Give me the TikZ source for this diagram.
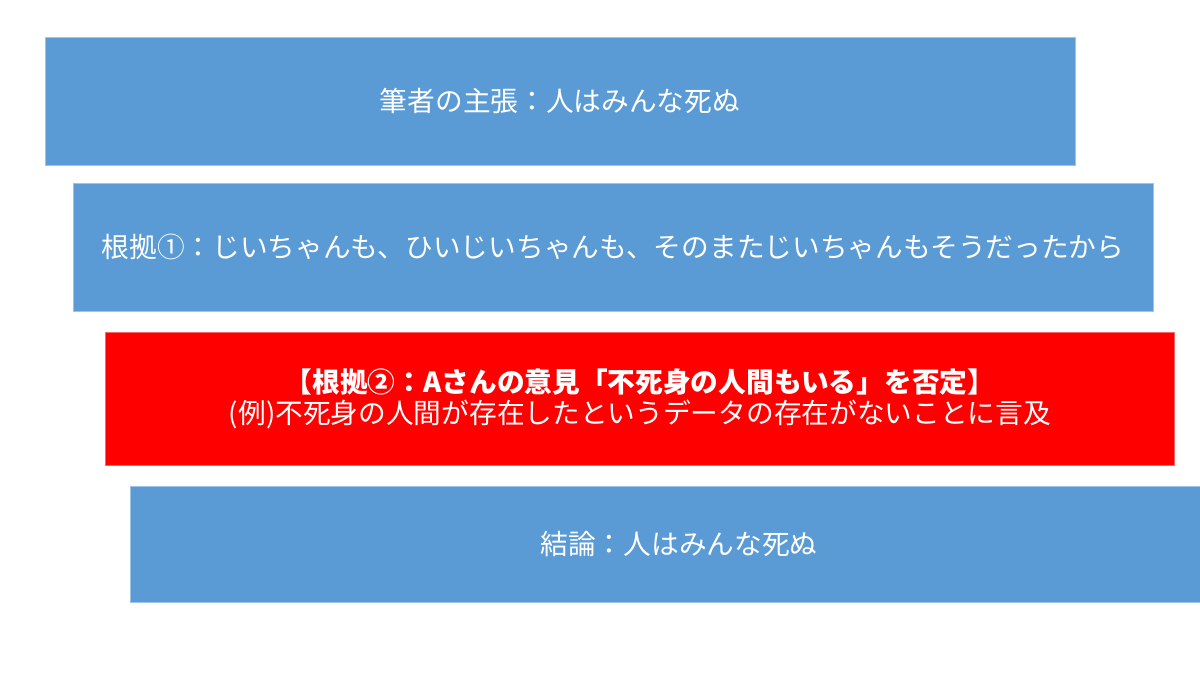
\documentclass[tikz,border=0pt]{standalone}
\usepackage{fontspec}
\setmainfont{Noto Sans CJK JP}
\definecolor{boxblue}{HTML}{5B9BD5}
\definecolor{boxred}{HTML}{FF0000}
\tikzset{
  panel/.style={rectangle, fill=#1, draw=#1!60!white, line width=0.8pt, inner sep=0pt,
    text=white, font=\fontsize{27.7}{31}\selectfont, align=center},
  paneltext/.style={inner sep=0pt, text=white, font=\fontsize{27.7}{31}\selectfont, align=center},
}
\begin{document}
\begin{tikzpicture}[x=1pt,y=-1pt]
\useasboundingbox (0,0) rectangle (1200,675);
\node[panel=boxblue, minimum width=1030pt, minimum height=128pt] (b1) at (560,101) {筆者の主張：人はみんな死ぬ};
\node[panel=boxblue, minimum width=1080pt, minimum height=128pt] (b2) at (613,247) {根拠①：じいちゃんも、ひいじいちゃんも、そのまたじいちゃんもそうだったから};
\node[panel=boxred, minimum width=1069pt, minimum height=133pt] (b3) at (640,398.5) {{\bfseries 【根拠②：Aさんの意見「不死身の人間もいる」を否定】}\\(例)不死身の人間が存在したというデータの存在がないことに言及};
\node[panel=boxblue, minimum width=1070pt, minimum height=116pt] (b4) at (665,544) {};
\node[paneltext, xshift=14pt] (t4) at (b4.center) {結論：人はみんな死ぬ};
\end{tikzpicture}
\end{document}
